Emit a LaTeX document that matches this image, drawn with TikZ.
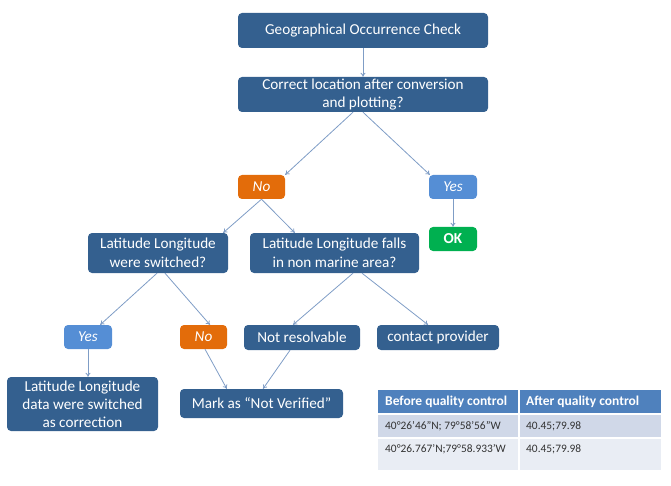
\documentclass[tikz,border=0pt]{standalone}
\usepackage{fontspec}
\setmainfont{Carlito}
\usetikzlibrary{arrows.meta,calc}
\definecolor{boxblue}{HTML}{34608F}
\definecolor{noorange}{HTML}{E36C0A}
\definecolor{yesblue}{HTML}{558ED5}
\definecolor{okgreen}{HTML}{00B050}
\definecolor{linec}{HTML}{7F9DC6}
\definecolor{thead}{HTML}{4F81BD}
\definecolor{trowa}{HTML}{D0D8E8}
\definecolor{trowb}{HTML}{E9EDF4}
\tikzset{
  base/.style={rounded corners=4pt, text=white, align=center, inner sep=0pt, font=\fontsize{15.2}{18.5}\selectfont},
  bluebox/.style={base, fill=boxblue},
  nobox/.style={base, fill=noorange, minimum width=47pt, minimum height=24pt, font=\fontsize{15.2}{18}\selectfont\itshape},
  yesbox/.style={base, fill=yesblue, minimum width=48pt, minimum height=24pt, font=\fontsize{15.2}{18}\selectfont\itshape},
  okbox/.style={base, fill=okgreen, minimum width=48pt, minimum height=24pt, font=\fontsize{15.2}{18}\selectfont\bfseries},
  conn/.style={draw=linec, line width=0.8pt, -{To[length=4pt,width=5pt]}},
  thtext/.style={anchor=west, inner sep=0pt, text=white, font=\fontsize{13.5}{16}\selectfont\bfseries},
  tdtext/.style={anchor=west, inner sep=0pt, text=black!80, font=\fontsize{11.4}{13}\selectfont}
}
\begin{document}
\begin{tikzpicture}[x=1pt,y=-1pt]
\useasboundingbox (0,0) rectangle (671,486);
% flowchart nodes
\node[bluebox, minimum width=250pt, minimum height=35pt] (geo) at (363,30.5) {Geographical Occurrence Check};
\node[bluebox, minimum width=250pt, minimum height=35pt, font=\fontsize{15.2}{18}\selectfont] (corr) at (363,94.5) {Correct location after conversion\\and plotting?};
\node[nobox] (no1) at (261.5,187) {No};
\node[yesbox] (yes1) at (453,187) {Yes};
\node[okbox] (ok) at (453,239) {OK};
\node[bluebox, minimum width=140pt, minimum height=40pt] (lat1) at (158,253) {Latitude Longitude\\were switched?};
\node[bluebox, minimum width=169pt, minimum height=40pt] (lat2) at (334.5,253) {Latitude Longitude falls\\in non marine area?};
\node[yesbox] (yes2) at (88,337) {Yes};
\node[nobox] (no2) at (203.5,337) {No};
\node[bluebox, minimum width=116pt, minimum height=25pt] (notres) at (302,337.5) {Not resolvable};
\node[bluebox, minimum width=122pt, minimum height=25pt] (contact) at (438,337.5) {contact provider};
\node[bluebox, minimum width=151pt, minimum height=54pt, font=\fontsize{15.2}{18}\selectfont] (sw) at (82.5,404) {Latitude Longitude\\data were switched\\as correction};
\node[bluebox, minimum width=163pt, minimum height=29pt] (mark) at (261.5,403.5) {Mark as “Not Verified”};
% connectors
\draw[conn] (geo.south) -- (corr.north);
\draw[conn] ($(corr.south)+(-10,0)$) -- (no1.north east);
\draw[conn] (corr.south) -- ($(yes1.north west)+(1,0)$);
\draw[conn] (yes1.south) -- (ok.north);
\draw[conn] (no1.south) -- ($(lat1.north east)+(-5,0)$);
\draw[conn] (no1.south) -- ($(lat2.north west)+(45,0)$);
\draw[conn] ($(lat1.south)+(-1,0)$) -- ($(yes2.north east)+(-12,0)$);
\draw[conn] ($(lat1.south)+(7,0)$) -- ($(no2.north)+(6.5,0)$);
\draw[conn] (yes2.south) -- (sw.north -| yes2.south);
\draw[conn] ($(no2.south)+(1.5,0)$) -- ($(mark.north west)+(47,0)$);
\draw[conn] ($(notres.south)+(-12,0)$) -- ($(mark.north)+(1.5,0)$);
\draw[conn] ($(lat2.south)+(18.5,0)$) -- ($(notres.north)+(-9,0)$);
\draw[conn] ($(lat2.south)+(27.5,0)$) -- ($(contact.north)+(-10,0)$);
% table
\fill[thead] (378,390) rectangle (661,414);
\fill[trowa] (378,414) rectangle (661,438);
\fill[trowb] (378,438) rectangle (661,470);
\draw[white, line width=1.2pt] (519,390) -- (519,470);
\draw[white, line width=1.2pt] (378,414) -- (661,414);
\draw[white, line width=1.2pt] (378,438) -- (661,438);
\node[thtext] (h1) at (385,402) {Before quality control};
\node[thtext] (h2) at (526,402) {After quality control};
\node[tdtext] (r1a) at (385,426) {40°26’46”N; 79°58’56”W};
\node[tdtext] (r1b) at (526,426) {40.45;79.98};
\node[tdtext] (r2a) at (385,449) {40°26.767’N;79°58.933’W};
\node[tdtext] (r2b) at (526,449) {40.45;79.98};
\end{tikzpicture}
\end{document}
